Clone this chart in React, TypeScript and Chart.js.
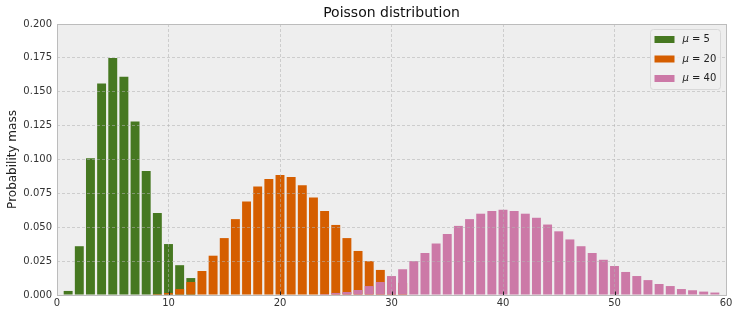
import React, { useEffect, useRef } from "react";
import { Chart, registerables } from "chart.js";

Chart.register(...registerables);

const TITLE = "Poisson distribution";
const Y_LABEL = "Probability mass";
const SERIES_LABELS = ["5", "20", "40"];
const COLORS = ["#467821", "#D55E00", "#CC79A7"];

// first k of each series, then pmf values
const MU5_START = 1;
const MU5 = [0.003, 0.036, 0.101, 0.156, 0.175, 0.161, 0.128, 0.0915, 0.0605, 0.0376, 0.022, 0.0125];
const MU20_START = 9;
const MU20 = [
  0.0007, 0.0015, 0.0044, 0.0096, 0.0177, 0.029, 0.042, 0.056, 0.069, 0.08, 0.0856, 0.0886, 0.087,
  0.081, 0.072, 0.062, 0.0517, 0.042, 0.0325, 0.025, 0.0185, 0.013, 0.009,
];
const MU40_START = 24;
const MU40 = [
  0.0007, 0.0015, 0.0022, 0.0037, 0.0066, 0.0096, 0.014, 0.019, 0.025, 0.031, 0.038, 0.045, 0.051,
  0.056, 0.06, 0.062, 0.063, 0.062, 0.06, 0.057, 0.052, 0.047, 0.041, 0.036, 0.031, 0.026, 0.0214,
  0.017, 0.014, 0.011, 0.0081, 0.0066, 0.0044, 0.0035, 0.0025, 0.0018,
];

const X_MIN = 0;
const X_MAX = 60;
const X_STEP = 10;
const Y_MIN = 0;
const Y_MAX = 0.2;
const Y_STEP = 0.025;

const FONT = "'DejaVu Sans', sans-serif";
const GRID = "rgba(178,178,178,0.55)";

const toPoints = (start: number, vals: number[]) => vals.map((y, i) => ({ x: start + i, y }));

const bgPlugin = {
  id: "bg",
  beforeDraw(chart: any) {
    const { ctx, chartArea: a } = chart;
    ctx.save();
    ctx.fillStyle = "#ffffff";
    ctx.fillRect(0, 0, chart.width, chart.height);
    ctx.fillStyle = "#eeeeee";
    ctx.fillRect(a.left, a.top, a.right - a.left, a.bottom - a.top);
    ctx.restore();
  },
};

const decoPlugin = {
  id: "deco",
  afterDraw(chart: any) {
    const { ctx, chartArea: a } = chart;
    const xs = chart.scales.x;
    ctx.save();
    // inward tick marks on x axis
    ctx.strokeStyle = "#222";
    ctx.lineWidth = 1;
    for (let v = X_MIN + X_STEP; v < X_MAX; v += X_STEP) {
      const px = Math.round(xs.getPixelForValue(v)) + 0.5;
      ctx.beginPath();
      ctx.moveTo(px, a.bottom);
      ctx.lineTo(px, a.bottom - 3.5);
      ctx.stroke();
    }
    // frame
    ctx.strokeStyle = "#bcbcbc";
    ctx.lineWidth = 1;
    ctx.strokeRect(Math.round(a.left) + 0.5, Math.round(a.top) + 0.5, Math.round(a.right - a.left), Math.round(a.bottom - a.top));
    // title
    ctx.fillStyle = "#111";
    ctx.font = `14px ${FONT}`;
    ctx.textAlign = "center";
    ctx.textBaseline = "middle";
    ctx.fillText(TITLE, (a.left + a.right) / 2, 13);
    // legend
    const lx = a.right - 75.5;
    const ly = a.top + 5.5;
    const lw = 70;
    const lh = 60;
    ctx.fillStyle = "rgba(240,240,240,0.85)";
    ctx.strokeStyle = "#d8d8d8";
    ctx.beginPath();
    ctx.roundRect(lx, ly, lw, lh, 3);
    ctx.fill();
    ctx.stroke();
    ctx.textAlign = "left";
    ctx.textBaseline = "middle";
    SERIES_LABELS.forEach((lab, i) => {
      const cy = ly + 10 + i * 19.5;
      ctx.fillStyle = COLORS[i];
      ctx.fillRect(lx + 4, cy - 3.5, 20, 7);
      ctx.fillStyle = "#222";
      ctx.font = `italic 10px ${FONT}`;
      const tx = lx + 32;
      ctx.fillText("\u03bc", tx, cy);
      const w = ctx.measureText("\u03bc").width;
      ctx.font = `10px ${FONT}`;
      ctx.fillText(" = " + lab, tx + w, cy);
    });
    ctx.restore();
  },
};

export default function App() {
  const ref = useRef<HTMLCanvasElement | null>(null);
  useEffect(() => {
    if (!ref.current) return;
    const chart = new Chart(ref.current, {
      type: "bar",
      data: {
        datasets: [
          { label: "\u03bc = " + SERIES_LABELS[0], data: toPoints(MU5_START, MU5), backgroundColor: COLORS[0], order: 3 },
          { label: "\u03bc = " + SERIES_LABELS[1], data: toPoints(MU20_START, MU20), backgroundColor: COLORS[1], order: 2 },
          { label: "\u03bc = " + SERIES_LABELS[2], data: toPoints(MU40_START, MU40), backgroundColor: COLORS[2], order: 1 },
        ] as any,
      },
      options: {
        responsive: false,
        animation: false,
        devicePixelRatio: 1,
        datasets: { bar: { grouped: false, barPercentage: 0.8, categoryPercentage: 1, borderWidth: 0 } } as any,
        layout: { autoPadding: false, padding: { left: 0, right: 13, top: 24, bottom: 0 } } as any,
        plugins: { legend: { display: false }, tooltip: { enabled: false }, title: { display: false } },
        scales: {
          x: {
            type: "linear",
            min: X_MIN,
            max: X_MAX,
            offset: false,
            afterFit: (s: any) => { s.height = 21; },
            ticks: { stepSize: X_STEP, color: "#333", font: { family: FONT, size: 10 }, padding: 2, maxRotation: 0 },
            grid: { color: GRID, lineWidth: 1, drawTicks: false, offset: false, z: 1 } as any,
            border: { display: false, dash: [3, 2] },
          },
          y: {
            type: "linear",
            min: Y_MIN,
            max: Y_MAX,
            afterFit: (s: any) => { s.width = 57; },
            ticks: {
              stepSize: Y_STEP,
              color: "#333",
              font: { family: FONT, size: 10 },
              padding: 5,
              callback: (v: any) => Number(v).toFixed(3),
            },
            grid: { color: GRID, lineWidth: 1, drawTicks: false, offset: false, z: 1 } as any,
            border: { display: false, dash: [3, 2] },
            title: { display: true, text: Y_LABEL, color: "#222", font: { family: FONT, size: 12 }, padding: { top: 6, bottom: 0 } },
          },
        },
      } as any,
      plugins: [bgPlugin, decoPlugin],
    });
    return () => chart.destroy();
  }, []);
  return (
    <div style={{ position: "fixed", left: 0, top: 0, width: 739, height: 316 }}>
      <canvas ref={ref} width={739} height={316} style={{ width: 739, height: 316 }} />
    </div>
  );
}
